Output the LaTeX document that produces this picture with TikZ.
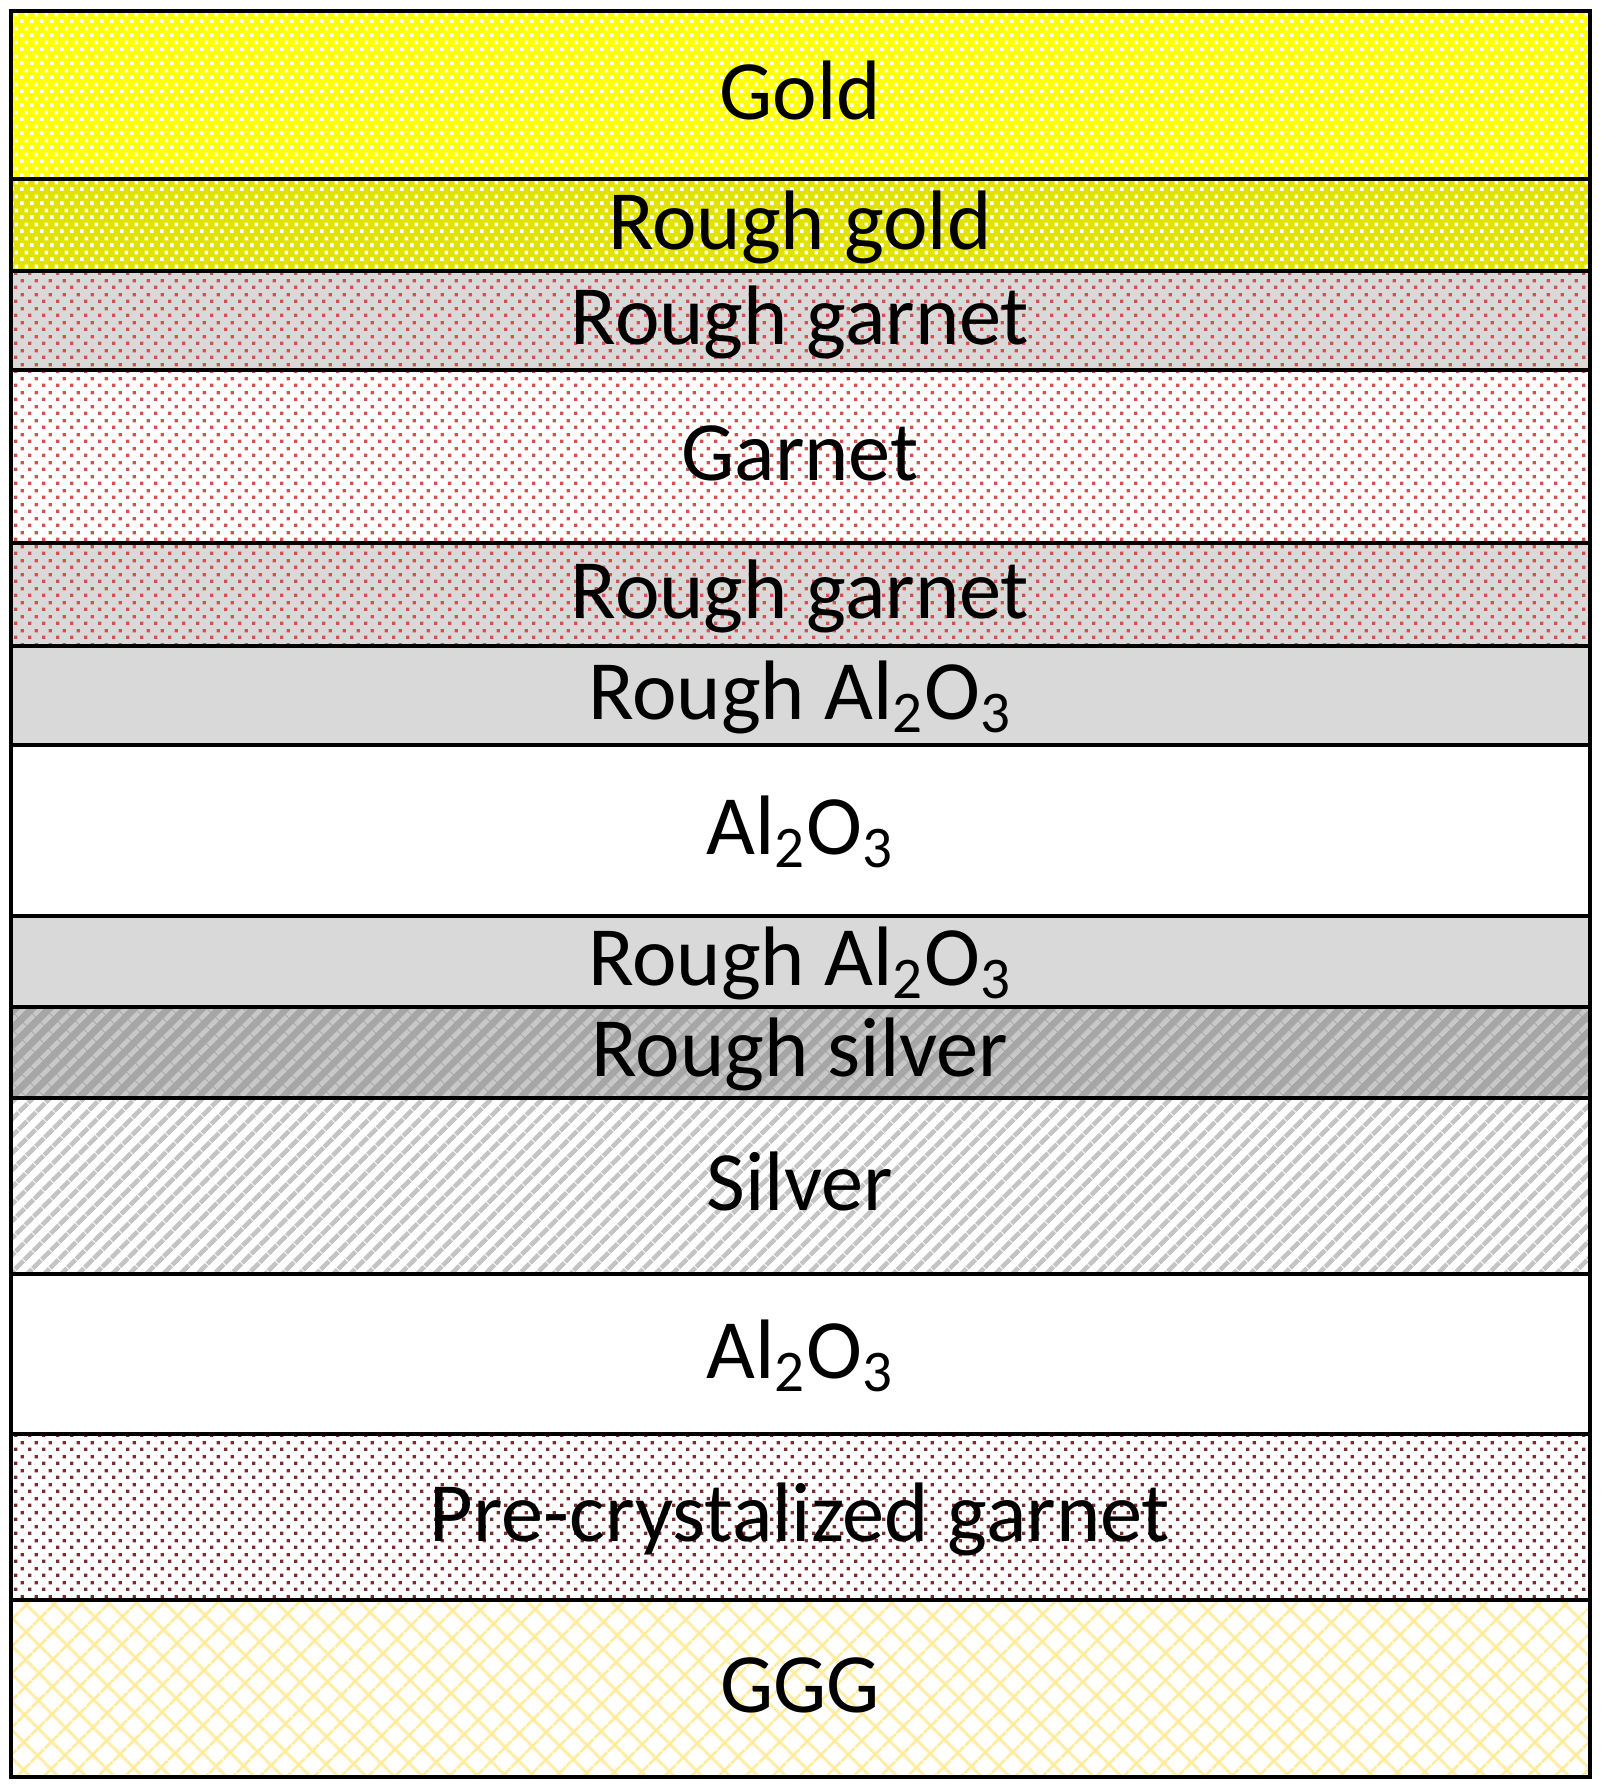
\documentclass[tikz,border=0pt]{standalone}
\usepackage{fontspec}
\setmainfont{Carlito}
\usetikzlibrary{patterns.meta}

\definecolor{goldyellow}{HTML}{FFFF00}
\definecolor{roughgold}{HTML}{E2E200}
\definecolor{layergray}{HTML}{D9D9D9}
\definecolor{garnetred}{HTML}{D4504A}
\definecolor{darkgarnet}{HTML}{7F2B2B}
\definecolor{silverdark}{HTML}{A6A6A6}
\definecolor{silverline}{HTML}{C8C8C8}
\definecolor{silverlight}{HTML}{C4C4C4}
\definecolor{gggyellow}{HTML}{FFEB99}

\tikzdeclarepattern{
  name=golddots,
  type=uncolored,
  bottom left={(0cm,0cm)},
  top right={(0.10cm,0.14cm)},
  tile size={(0.10cm,0.14cm)},
  code={
    \fill (0cm,0cm) rectangle (0.04cm,0.04cm);
    \fill (0.05cm,0.07cm) rectangle (0.09cm,0.11cm);
  }
}
\tikzdeclarepattern{
  name=garnetdots,
  type=uncolored,
  bottom left={(0cm,0cm)},
  top right={(0.14cm,0.14cm)},
  tile size={(0.14cm,0.14cm)},
  code={
    \fill (0cm,0cm) rectangle (0.035cm,0.035cm);
    \fill (0.07cm,0.07cm) rectangle (0.105cm,0.105cm);
  }
}
\tikzdeclarepattern{
  name=silverlines,
  type=uncolored,
  bottom left={(0cm,0cm)},
  top right={(0.13cm,0.13cm)},
  tile size={(0.13cm,0.13cm)},
  tile transformation={rotate=45},
  code={
    \fill (0cm,0.04cm) rectangle (0.13cm,0.09cm);
  }
}
\tikzdeclarepattern{
  name=gggcross,
  type=uncolored,
  bottom left={(0cm,0cm)},
  top right={(0.20cm,0.20cm)},
  tile size={(0.20cm,0.20cm)},
  tile transformation={rotate=45},
  code={
    \fill (0cm,0.085cm) rectangle (0.20cm,0.115cm);
    \fill (0.085cm,0cm) rectangle (0.115cm,0.20cm);
  }
}

\tikzset{
  layer/.style={draw=black, line width=0.035cm},
  gold/.style={layer, preaction={fill=goldyellow}, pattern=golddots, pattern color=white},
  roughgoldlayer/.style={layer, preaction={fill=roughgold}, pattern=golddots, pattern color=white},
  roughgarnet/.style={layer, preaction={fill=layergray}, pattern=garnetdots, pattern color=garnetred},
  garnet/.style={layer, preaction={fill=white}, pattern=garnetdots, pattern color=garnetred},
  roughoxide/.style={layer, fill=layergray},
  oxide/.style={layer, fill=white},
  roughsilver/.style={layer, preaction={fill=silverdark}, pattern=silverlines, pattern color=silverline},
  silver/.style={layer, preaction={fill=white}, pattern=silverlines, pattern color=silverlight},
  precryst/.style={layer, preaction={fill=white}, pattern=garnetdots, pattern color=darkgarnet},
  ggg/.style={layer, preaction={fill=white}, pattern=gggcross, pattern color=gggyellow},
  lbl/.style={font=\fontsize{24}{28}\selectfont, anchor=base, inner sep=0pt, text=black}
}

\begin{document}
\begin{tikzpicture}[x=0.01cm, y=-0.01cm]
		%%%%% START %%%%%
		\useasboundingbox (0, 0) rectangle (1604, 1787);
		\fill[white] (0, 0) rectangle (1604, 1787);
		
		\draw[gold] (11, 11) rectangle (1590, 179);
		\node[lbl] (gold) at (800, 119) {Gold};
		
		\draw[roughgoldlayer] (11, 179) rectangle (1590, 271);
		\node[lbl] (roughgold) at (800, 249) {Rough gold};
		
		\draw[roughgarnet] (11, 271) rectangle (1590, 370);
		\node[lbl] (roughgarnettop) at (800, 344) {Rough garnet};
		
		\draw[garnet] (11, 370) rectangle (1590, 543);
		\node[lbl] (garnet) at (800, 480) {Garnet};
		
		\draw[roughgarnet] (11, 543) rectangle (1590, 646);
		\node[lbl] (roughgarnetbottom) at (800, 618) {Rough garnet};
		
		\draw[roughoxide] (11, 646) rectangle (1590, 745);
		\node[lbl] (roughoxidetop) at (800, 719) {Rough Al\textsubscript{2}O\textsubscript{3}};
		
		\draw[oxide] (11, 745) rectangle (1590, 916);
		\node[lbl] (oxidetop) at (800, 854) {Al\textsubscript{2}O\textsubscript{3}};
		
		\draw[roughoxide] (11, 916) rectangle (1590, 1007);
		\node[lbl] (roughoxidebottom) at (800, 985) {Rough Al\textsubscript{2}O\textsubscript{3}};
		
		\draw[roughsilver] (11, 1007) rectangle (1590, 1098);
		\node[lbl] (roughsilver) at (800, 1076) {Rough silver};
		
		\draw[silver] (11, 1098) rectangle (1590, 1274);
		\node[lbl] (silver) at (800, 1210) {Silver};
		
		\draw[oxide] (11, 1274) rectangle (1590, 1434);
		\node[lbl] (oxidebottom) at (800, 1378) {Al\textsubscript{2}O\textsubscript{3}};
		
		\draw[precryst] (11, 1434) rectangle (1590, 1600);
		\node[lbl] (precryst) at (800, 1541) {Pre-crystalized garnet};
		
		\draw[ggg] (11, 1600) rectangle (1590, 1777);
		\node[lbl] (ggg) at (800, 1712) {GGG};
		
		%%%%% END %%%%%
\end{tikzpicture}
\end{document}
